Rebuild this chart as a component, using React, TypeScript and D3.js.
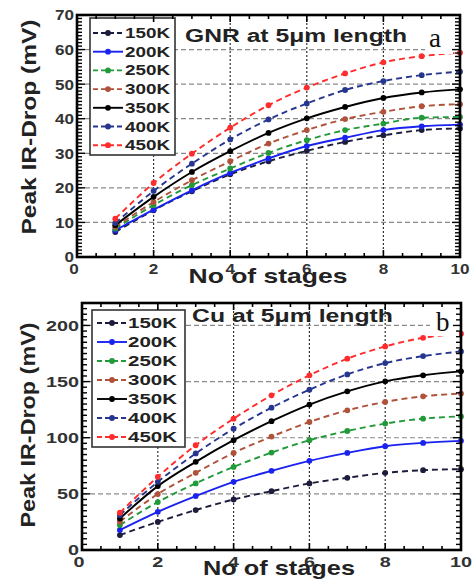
import React from 'react'
import * as d3 from 'd3'

// No of stages (x) and temperature labels
const stages = [1, 2, 3, 4, 5, 6, 7, 8, 9, 10]
const temps = ['150K', '200K', '250K', '300K', '350K', '400K', '450K']

// GNR at 5um length, peak IR-drop (mV)
const gnr150 = [7.2, 13.5, 19, 23.9, 27.7, 30.7, 33.3, 35.2, 36.7, 37.2]
const gnr200 = [7.7, 13.7, 19.3, 24.3, 28.5, 32.1, 34.5, 36.7, 37.8, 38.3]
const gnr250 = [8.2, 15, 20.8, 25.6, 30.1, 33.8, 36.7, 38.6, 40.3, 40.5]
const gnr300 = [8.7, 15.9, 22.2, 27.7, 32.8, 36.7, 39.9, 42, 43.6, 44.2]
const gnr350 = [9.2, 17.4, 24.6, 30.6, 35.9, 40.1, 43.4, 46, 47.6, 48.5]
const gnr400 = [9.8, 19.1, 27, 34, 39.8, 44.4, 48.3, 50.9, 52.6, 53.6]
const gnr450 = [11.1, 21.4, 29.9, 37.4, 43.9, 49, 53.1, 56.3, 58.1, 59.1]

// Cu at 5um length, peak IR-drop (mV)
const cu150 = [13.3, 25, 35.6, 45, 52.4, 59.3, 64.3, 68.7, 71.1, 72]
const cu200 = [17.8, 34, 48, 60.7, 70.5, 79.4, 86.5, 92.4, 95.4, 97.2]
const cu250 = [22.2, 42.7, 59.3, 74, 86.8, 97.8, 106, 112.6, 117, 119]
const cu300 = [25.2, 49.8, 68.7, 86.5, 101, 114, 124.4, 131.9, 136.9, 139.3]
const cu350 = [28.1, 56.9, 78.5, 97.8, 114.7, 129.5, 141.3, 150.2, 155.6, 159.1]
const cu400 = [31.1, 60.7, 86, 108, 126.8, 142.8, 156.4, 166.5, 172.7, 176.9]
const cu450 = [33.2, 65.2, 93.3, 117, 137.8, 155.6, 170.4, 181.3, 189, 192.6]

const xTicks = [0, 2, 4, 6, 8, 10]
const gnrYTicks = [0, 10, 20, 30, 40, 50, 60, 70]
const cuYTicks = [0, 50, 100, 150, 200]

const styles = [
  { color: '#1c1c3c', dash: '6,4' },
  { color: '#1a22f0', dash: null },
  { color: '#229a3a', dash: '6,4' },
  { color: '#b0523a', dash: '6,4' },
  { color: '#000000', dash: null },
  { color: '#26368f', dash: '6,4' },
  { color: '#ff2c2c', dash: '6,4' },
]

const FONT = '"Liberation Sans", Arial, sans-serif'

function Panel(props: any) {
  const { series, yMax, yTicks, yMinor, box, title, letter, lg, txt } = props
  const x = d3.scaleLinear().domain([0, 10]).range([box.left, box.right])
  const y = d3.scaleLinear().domain([0, yMax]).range([box.bottom, box.top])
  const line = d3
    .line<number>()
    .x((d, i) => x(stages[i]))
    .y((d) => y(d))
    .curve(d3.curveMonotoneX)

  const xMinor = d3.range(0, 10.01, 0.5)
  const yMin = d3.range(0, yMax + 0.01, yMinor)

  return (
    <g>
      {/* grid */}
      {yTicks.slice(1).map((t: number) => (
        <line key={'gy' + t} x1={box.left} x2={box.right} y1={y(t)} y2={y(t)}
          stroke="#8a8a8a" strokeWidth={1.2} strokeDasharray="5,3" />
      ))}
      {xTicks.slice(1, -1).map((t) => (
        <line key={'gx' + t} x1={x(t)} x2={x(t)} y1={box.top} y2={box.bottom}
          stroke="#333" strokeWidth={1.2} strokeDasharray="2,2" />
      ))}

      {/* series */}
      {series.map((s: number[], i: number) => (
        <g key={'s' + i}>
          <path d={line(s) || ''} fill="none" stroke={styles[i].color} strokeWidth={1.9}
            strokeDasharray={styles[i].dash || undefined} />
          {s.map((v, j) => (
            <circle key={j} cx={x(stages[j])} cy={y(v)} r={2.9} fill={styles[i].color} />
          ))}
        </g>
      ))}

      {/* legend */}
      <rect x={lg.x} y={lg.y} width={lg.w} height={lg.h} fill="#fff" stroke="#333" strokeWidth={1.6} />
      {temps.map((t, i) => {
        const ly = lg.row0 + i * lg.step
        return (
          <g key={'l' + t}>
            <line x1={lg.lx1} x2={lg.lx2} y1={ly} y2={ly} stroke={styles[i].color} strokeWidth={1.9}
              strokeDasharray={styles[i].dash ? '5,3' : undefined} />
            <circle cx={(lg.lx1 + lg.lx2) / 2} cy={ly} r={2.9} fill={styles[i].color} />
            <text x={lg.tx} y={ly} dy="0.36em" fontFamily={FONT} fontWeight="bold" fontSize={lg.fs}
              fill="#222" textLength={lg.tw} lengthAdjust="spacingAndGlyphs">{t}</text>
          </g>
        )
      })}

      {/* title and panel letter */}
      <text x={txt.titleX} y={txt.titleY} fontFamily={FONT} fontWeight="bold" fontSize={18} fill="#222"
        textLength={txt.titleW} lengthAdjust="spacingAndGlyphs">{title}</text>
      <rect x={letter.x} y={letter.y} width={letter.w} height={letter.h} fill="#fff" />
      <text x={letter.tx} y={letter.ty} fontFamily='"Liberation Serif", "DejaVu Serif", serif' fontSize={27}
        fill="#111">{letter.t}</text>

      {/* frame */}
      <rect x={box.left} y={box.top} width={box.right - box.left} height={box.bottom - box.top}
        fill="none" stroke="#000" strokeWidth={2.6} />

      {/* ticks, inward on all sides */}
      {xMinor.map((t) => {
        const major = t % 2 === 0
        const len = major ? 7 : 4
        return (
          <g key={'tx' + t} stroke="#000" strokeWidth={1.6}>
            <line x1={x(t)} x2={x(t)} y1={box.bottom} y2={box.bottom - len} />
            <line x1={x(t)} x2={x(t)} y1={box.top} y2={box.top + len} />
          </g>
        )
      })}
      {yMin.map((t: number) => {
        const major = yTicks.includes(t)
        const len = major ? 8 : 5
        return (
          <g key={'ty' + t} stroke="#000" strokeWidth={1.4}>
            <line x1={box.left} x2={box.left + len} y1={y(t)} y2={y(t)} />
            <line x1={box.right} x2={box.right - len} y1={y(t)} y2={y(t)} />
          </g>
        )
      })}

      {/* tick labels */}
      {xTicks.map((t) => (
        <text key={'xl' + t} x={x(t) - (t === 0 ? 3 : 0)} y={txt.xLabY} textAnchor="middle" fontFamily={FONT}
          fontWeight="bold" fontSize={15} fill="#333"
          textLength={String(t).length * txt.digitW} lengthAdjust="spacingAndGlyphs">{t}</text>
      ))}
      {yTicks.map((t: number) => (
        <text key={'yl' + t} x={box.left - 3} y={y(t)} dy="0.36em" textAnchor="end" fontFamily={FONT}
          fontWeight="bold" fontSize={15} fill="#333"
          textLength={String(t).length * txt.digitW} lengthAdjust="spacingAndGlyphs">{t}</text>
      ))}

      {/* axis titles */}
      <text x={txt.xtX} y={txt.xtY} textAnchor="middle" fontFamily={FONT} fontWeight="bold" fontSize={21}
        fill="#222" textLength={txt.xtW} lengthAdjust="spacingAndGlyphs">No of stages</text>
      <text transform={`translate(${txt.ytX},${txt.ytY}) rotate(-90)`} textAnchor="middle" dy="0.36em"
        fontFamily={FONT} fontWeight="bold" fontSize={21} fill="#222"
        textLength={txt.ytW} lengthAdjust="spacingAndGlyphs">Peak IR-Drop (mV)</text>
    </g>
  )
}

export default function App() {
  return (
    <svg width={472} height={583} style={{ position: 'absolute', left: 0, top: 0, background: '#fff' }}>
      <rect width={472} height={583} fill="#fff" />
      <Panel
        series={[gnr150, gnr200, gnr250, gnr300, gnr350, gnr400, gnr450]}
        yMax={70}
        yTicks={gnrYTicks}
        yMinor={1}
        box={{ left: 77, right: 460, top: 15, bottom: 257 }}
        title="GNR at 5μm length"
        letter={{ x: 425, y: 27, w: 28, h: 27, tx: 429, ty: 47, t: 'a' }}
        lg={{ x: 90, y: 18, w: 85, h: 137, row0: 33, step: 18.7, lx1: 93, lx2: 123, tx: 125, tw: 45, fs: 14 }}
        txt={{ titleX: 185, titleY: 42, titleW: 222, xLabY: 274, digitW: 9.5, xtX: 268, xtY: 283, xtW: 159,
          ytX: 28, ytY: 127, ytW: 215 }}
      />
      <Panel
        series={[cu150, cu200, cu250, cu300, cu350, cu400, cu450]}
        yMax={220}
        yTicks={cuYTicks}
        yMinor={5}
        box={{ left: 82, right: 461, top: 303, bottom: 550 }}
        title="Cu at 5μm length"
        letter={{ x: 430, y: 308, w: 29, h: 28, tx: 436, ty: 331, t: 'b' }}
        lg={{ x: 92, y: 310, w: 93, h: 137, row0: 323, step: 19, lx1: 97, lx2: 127, tx: 128, tw: 49, fs: 15 }}
        txt={{ titleX: 192, titleY: 322, titleW: 201, xLabY: 567, digitW: 11, xtX: 279, xtY: 575, xtW: 152,
          ytX: 27, ytY: 425, ytW: 205 }}
      />
    </svg>
  )
}
